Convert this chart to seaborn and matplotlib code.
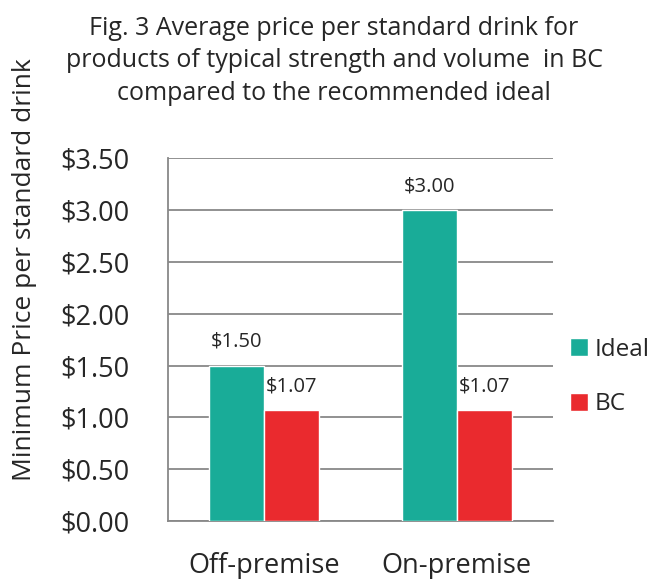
import pandas as pd
import numpy as np
import seaborn as sns
import matplotlib.pyplot as plt

## 데이터
categories = ['Off-premise', 'On-premise']
series = ['Ideal', 'BC']
ideal_vals = [1.50, 3.00]
bc_vals = [1.07, 1.07]
ytick_vals = [0.0, 0.5, 1.0, 1.5, 2.0, 2.5, 3.0, 3.5]

df = pd.DataFrame({
    'premise': categories * 2,
    'series': ['Ideal'] * 2 + ['BC'] * 2,
    'price': ideal_vals + bc_vals,
})

sns.set_style('white')
plt.rcParams['font.family'] = ['Open Sans', 'DejaVu Sans']

fig = plt.figure(figsize=(6.59, 5.79), dpi=100)
ax = fig.add_axes([0.255, 0.100, 0.584, 0.627])

palette = {'Ideal': '#19AC98', 'BC': '#EA2A2E'}
sns.barplot(data=df, x='premise', y='price', hue='series', hue_order=series,
            palette=palette, width=0.57, saturation=1, ax=ax, zorder=3)

# 막대 위 값 표시
for cont in ax.containers:
    ax.bar_label(cont, labels=[f'${v:.2f}' for v in cont.datavalues],
                 padding=10, fontsize=14.5)

ax.set_ylim(0, 3.5)
ax.set_xlim(-0.5, 1.5)
ax.set_yticks(ytick_vals)
ax.set_yticklabels([f'${v:.2f}' for v in ytick_vals], fontsize=19.5)
ax.tick_params(axis='y', length=8, color='#888888', width=1.3, direction='out', pad=20)
ax.tick_params(axis='x', length=0, labelsize=19.5, pad=22)
ax.yaxis.grid(True, color='#888888', linewidth=1.3, zorder=0)
ax.set_axisbelow(True)

for s in ['top', 'right']:
    ax.spines[s].set_visible(False)
for s in ['left', 'bottom']:
    ax.spines[s].set_color('#888888')
    ax.spines[s].set_linewidth(1.3)

ax.set_xlabel('')
ax.set_ylabel('')
fig.text(25 / 659, 0.534, 'Minimum Price per standard drink', rotation=90,
         fontsize=19, ha='center', va='center')

fig.text(0.507, 0.895, 'Fig. 3 Average price per standard drink for\n'
         'products of typical strength and volume  in BC\n'
         'compared to the recommended ideal',
         fontsize=18, ha='center', va='center', linespacing=1.38)

leg = ax.legend(loc='center left', bbox_to_anchor=(1.018, 0.397), frameon=False,
                fontsize=17.5, handlelength=0.74, handleheight=0.74,
                handletextpad=0.3, labelspacing=1.25, borderaxespad=0)

fig.savefig('out.png', dpi=100)
